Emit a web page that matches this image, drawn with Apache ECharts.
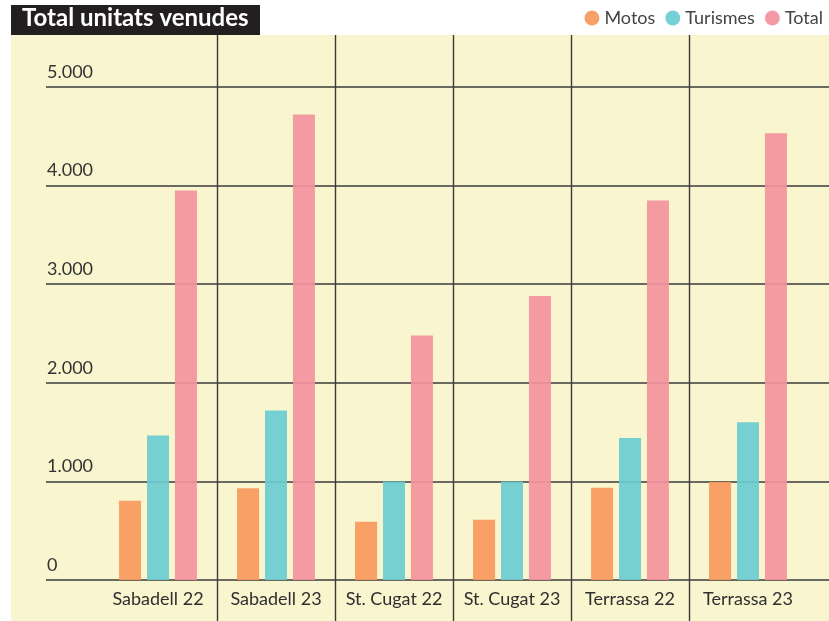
<!DOCTYPE html>
<html>
<head>
<meta charset="utf-8">
<script src="https://cdn.jsdelivr.net/npm/echarts@6/dist/echarts.min.js"></script>
<style>
  html, body { margin: 0; padding: 0; background: #fff; }
  #chart { width: 829px; height: 621px; }
</style>
</head>
<body>
<div id="chart"></div>
<script>
var categories = ["Sabadell 22", "Sabadell 23", "St. Cugat 22", "St. Cugat 23", "Terrassa 22", "Terrassa 23"];
var motos = [805, 930, 590, 610, 935, 995];
var turismes = [1465, 1720, 1000, 1000, 1440, 1600];
var total = [3950, 4720, 2480, 2880, 3850, 4530];
var yTicks = [0, 1000, 2000, 3000, 4000, 5000];

var lineColor = "#3a3a3a";
var fontName = "Lato";

// 5000 -> "5.000"
function fmt(v) {
    return String(v).replace(/\B(?=(\d{3})+(?!\d))/g, ".");
}

var chart = echarts.init(document.getElementById("chart"));

var option = {
    animation: false,
    textStyle: { fontFamily: fontName },
    graphic: [
        { type: "rect", z: -10, shape: { x: 11, y: 35, width: 818, height: 586 }, style: { fill: "#f8f5cf" } },
        { type: "rect", z: -10, shape: { x: 11, y: 5, width: 249, height: 30 }, style: { fill: "#231f20" } }
    ],
    title: {
        text: "Total unitats venudes",
        left: 15,
        top: 6,
        padding: [0, 0, 0, 7],
        textStyle: { color: "#fff", fontSize: 24, fontWeight: "bold", fontFamily: fontName }
    },
    legend: {
        data: ["Motos", "Turismes", "Total"],
        icon: "circle",
        itemWidth: 15,
        itemHeight: 15,
        itemGap: 10,
        right: 1,
        top: 4,
        textStyle: { fontSize: 18, color: "#444", fontFamily: fontName }
    },
    grid: [
        { left: 46, right: 0, top: 87, bottom: 41 },
        { left: 99, right: 22, top: 87, bottom: 41 },
        { left: 99, right: 22, top: 35, bottom: 0 }
    ],
    xAxis: [
        { type: "value", gridIndex: 0, show: false, min: 0, max: 1 },
        {
            type: "category", gridIndex: 1, data: categories,
            axisLine: { show: false }, axisTick: { show: false },
            axisLabel: { fontSize: 18, color: "#2e2e2e", margin: 10, interval: 0 }
        },
        {
            type: "category", gridIndex: 2, data: categories,
            axisLine: { show: false }, axisTick: { show: false }, axisLabel: { show: false },
            splitLine: { show: true, showMinLine: false, showMaxLine: false, lineStyle: { color: lineColor, width: 1.4 } }
        }
    ],
    yAxis: [
        {
            type: "value", gridIndex: 0, min: yTicks[0], max: yTicks[yTicks.length - 1], interval: 1000,
            axisLine: { show: false }, axisTick: { show: false },
            axisLabel: {
                inside: true, margin: 1, verticalAlign: "bottom", padding: [0, 0, 6, 0],
                fontSize: 18, color: "#333", formatter: fmt
            },
            splitLine: { lineStyle: { color: lineColor, width: 1.5 } }
        },
        { type: "value", gridIndex: 1, min: yTicks[0], max: yTicks[yTicks.length - 1], show: false },
        { type: "value", gridIndex: 2, min: 0, max: 1, show: false }
    ],
    series: [
        {
            name: "Motos", type: "bar", xAxisIndex: 1, yAxisIndex: 1, data: motos,
            barWidth: 22, barGap: "27%",
            itemStyle: { color: "#f7995e", opacity: 0.93 }
        },
        {
            name: "Turismes", type: "bar", xAxisIndex: 1, yAxisIndex: 1, data: turismes,
            barWidth: 22, barGap: "27%",
            itemStyle: { color: "#6ccbd1", opacity: 0.93 }
        },
        {
            name: "Total", type: "bar", xAxisIndex: 1, yAxisIndex: 1, data: total,
            barWidth: 22, barGap: "27%",
            itemStyle: { color: "#f3929d", opacity: 0.93 }
        }
    ]
};

chart.setOption(option);
</script>
</body>
</html>
